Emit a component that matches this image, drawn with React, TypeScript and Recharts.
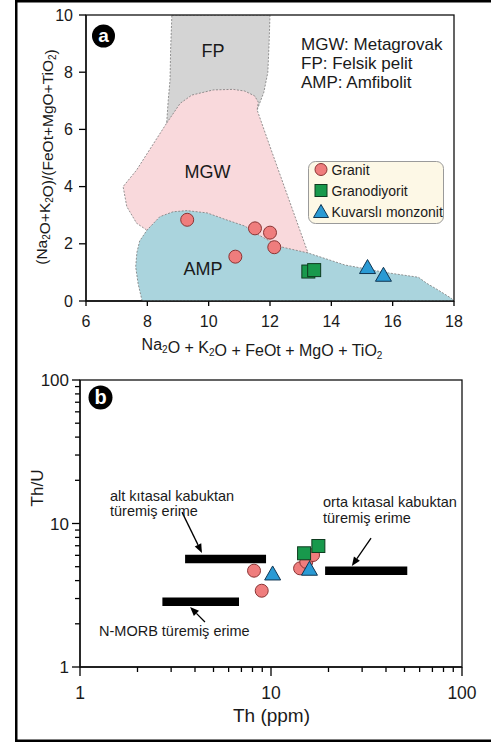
import React from "react";
import {
  ScatterChart,
  Scatter,
  XAxis,
  YAxis,
  ReferenceLine,
} from "recharts";

const FONT = "'Liberation Sans', Arial, Helvetica, sans-serif";
const INK = "#1a1a1a";

// ---- panel a: Na2O+K2O+FeOt+MgO+TiO2 vs (Na2O+K2O)/(FeOt+MgO+TiO2)
const xTicksA = [6, 8, 10, 12, 14, 16, 18];
const yTicksA = [0, 2, 4, 6, 8, 10];

// field boundaries (data coords)
const fpField = [
  [8.8, 10], [12.0, 10], [11.97, 9.0], [11.93, 8.0], [11.8, 7.3],
  [11.58, 6.68], [11.0, 6.0], [9.5, 5.8], [8.63, 6.22], [8.68, 7.0],
  [8.74, 7.73], [8.76, 8.8],
];
const mgwField = [
  [8.63, 6.22], [9.07, 6.91], [9.45, 7.2], [10.15, 7.38], [10.8, 7.4],
  [11.18, 7.34], [11.5, 7.17], [11.62, 6.95], [11.58, 6.68], [12.0, 5.4],
  [12.39, 4.23], [12.8, 3.0], [13.24, 1.68], [13.0, 1.4], [8.2, 2.0],
  [7.98, 2.48], [7.65, 2.72], [7.33, 3.3], [7.21, 4.0], [7.65, 4.58],
  [8.14, 5.4],
];
const ampField = [
  [7.83, 0], [7.7, 0.6], [7.62, 1.19], [7.66, 1.7], [7.75, 2.1],
  [7.99, 2.48], [8.41, 2.95], [8.84, 3.12], [9.29, 3.16], [9.95, 3.08],
  [10.6, 2.83], [11.18, 2.62], [11.51, 2.38], [12.33, 1.9], [13.24, 1.68],
  [14.44, 1.26], [15.75, 1.0], [16.84, 0.83], [17.11, 0.62], [17.49, 0.38],
  [17.92, 0.09], [18, 0],
];

const granitA = [
  { x: 9.3, y: 2.84 }, { x: 10.87, y: 1.55 }, { x: 11.51, y: 2.54 },
  { x: 12.0, y: 2.39 }, { x: 12.14, y: 1.88 },
];
const granodioritA = [{ x: 13.25, y: 1.03 }, { x: 13.44, y: 1.08 }];
const kuvarsliA = [{ x: 15.18, y: 1.17 }, { x: 15.7, y: 0.9 }];

// ---- panel b: Th (ppm) vs Th/U, log-log
const logTicks = [1, 2, 3, 4, 5, 6, 7, 8, 9, 10, 20, 30, 40, 50, 60, 70, 80, 90, 100];
const majorTicks = [1, 10, 100];

const granitB = [
  { th: 8.15, thu: 4.69 }, { th: 8.94, thu: 3.4 }, { th: 14.2, thu: 4.87 },
  { th: 15.3, thu: 5.4 }, { th: 16.6, thu: 6.03 },
];
const granodioritB = [{ th: 14.9, thu: 6.2 }, { th: 17.7, thu: 6.97 }];
const kuvarsliB = [{ th: 10.2, thu: 4.45 }, { th: 15.9, thu: 4.8 }];

// melt fields: [th from, th to, Th/U]
const meltBars = [
  [3.55, 9.42, 5.66],
  [2.7, 6.8, 2.85],
  [19.2, 51.7, 4.68],
];
// arrows: [tail th, tail thu, head th, head thu]
const meltArrows = [
  [3.42, 12.0, 4.35, 6.23],
  [4.51, 2.06, 3.77, 2.62],
  [33.4, 7.92, 26.5, 5.05],
];

const GRANIT = { fill: "#ef7d7d", stroke: "#8a3434" };
const GRANODIORIT = { fill: "#18994c", stroke: "#0e3b1f" };
const KUVARSLI = { fill: "#2a9ad4", stroke: "#103552" };

const toPts = (arr: number[][]) => arr.map(([x, y]) => ({ x, y }));

const fieldLine = (fill: string) => (p: any) => {
  const pts = p.points || [];
  if (!pts.length) return <g />;
  const d =
    pts.map((pt: any, i: number) => `${i ? "L" : "M"}${pt.x},${pt.y}`).join("") + "Z";
  return (
    <path d={d} fill={fill} stroke="#7a7a7a" strokeWidth={0.8} strokeDasharray="2 1.5" />
  );
};

const noDot = () => <g />;

const circleShape = (p: any) => (
  <circle cx={p.cx} cy={p.cy} r={6.5} fill={GRANIT.fill} stroke={GRANIT.stroke} strokeWidth={1} />
);
const squareShape = (p: any) => (
  <rect x={p.cx - 6.5} y={p.cy - 6.5} width={13} height={13} fill={GRANODIORIT.fill} stroke={GRANODIORIT.stroke} strokeWidth={1} />
);
const triangleShape = (p: any) => (
  <polygon
    points={`${p.cx},${p.cy - 8} ${p.cx - 8},${p.cy + 6} ${p.cx + 8},${p.cy + 6}`}
    fill={KUVARSLI.fill}
    stroke={KUVARSLI.stroke}
    strokeWidth={1}
  />
);

const LogTickX = (props: any) => {
  const { x, y, payload } = props;
  const major = majorTicks.includes(payload.value);
  return (
    <g>
      <line x1={x} y1={y} x2={x} y2={y + (major ? 9 : 5)} stroke="#000" strokeWidth={1.3} />
      {major && (
        <text x={x} y={y + 32} textAnchor="middle" fontSize={17.5} fontFamily={FONT} fill={INK}>
          {payload.value}
        </text>
      )}
    </g>
  );
};

const LogTickY = (props: any) => {
  const { x, y, payload } = props;
  const major = majorTicks.includes(payload.value);
  return (
    <g>
      <line x1={x - (major ? 8 : 5)} y1={y} x2={x} y2={y} stroke="#000" strokeWidth={1.3} />
      {major && (
        <text x={x - 11} y={y + 6} textAnchor="end" fontSize={17} fontFamily={FONT} fill={INK}>
          {payload.value}
        </text>
      )}
    </g>
  );
};

const arrowShape = (p: any) => {
  const { x1, y1, x2, y2 } = p;
  const a = Math.atan2(y2 - y1, x2 - x1);
  const L = 9;
  const W = 3.6;
  const bx = x2 - L * Math.cos(a);
  const by = y2 - L * Math.sin(a);
  const nx = -Math.sin(a) * W;
  const ny = Math.cos(a) * W;
  return (
    <g>
      <line x1={x1} y1={y1} x2={bx} y2={by} stroke="#000" strokeWidth={1.3} />
      <polygon points={`${x2},${y2} ${bx + nx},${by + ny} ${bx - nx},${by - ny}`} fill="#000" />
    </g>
  );
};

const Sub = ({ c }: { c: string }) => (
  <>
    <tspan dy={3} fontSize={10}>{c}</tspan>
    <tspan dy={-3}>{""}</tspan>
  </>
);

const legendItems = [
  { label: "Granit", kind: "circle" },
  { label: "Granodiyorit", kind: "square" },
  { label: "Kuvarslı monzonit", kind: "triangle" },
];

function Overlay() {
  const txt = { fontFamily: FONT, fill: INK } as const;
  return (
    <svg
      width={491}
      height={742}
      style={{ position: "absolute", left: 0, top: 0, pointerEvents: "none" }}
    >
      <rect x={16.25} y={1.25} width={490} height={739.5} fill="none" stroke="#000" strokeWidth={2.5} />

      {/* plot frames */}
      <rect x={86} y={15} width={368} height={286} fill="none" stroke="#111" strokeWidth={1.3} />
      <rect x={80} y={380} width={382} height={287} fill="none" stroke="#111" strokeWidth={1.3} />

      {/* panel a badges + labels */}
      <circle cx={103.5} cy={36} r={11.5} fill="#000" />
      <text x={103.5} y={42} textAnchor="middle" fontSize={19} fontWeight="bold" fontFamily={FONT} fill="#fff">a</text>
      <text x={213} y={57} textAnchor="middle" fontSize={18} {...txt}>FP</text>
      <text x={207.5} y={178} textAnchor="middle" fontSize={18} {...txt}>MGW</text>
      <text x={203} y={275} textAnchor="middle" fontSize={18} {...txt}>AMP</text>
      <text x={301} y={50} fontSize={17} {...txt}>MGW: Metagrovak</text>
      <text x={301} y={69} fontSize={17} {...txt}>FP: Felsik pelit</text>
      <text x={301} y={88} fontSize={17} {...txt}>AMP: Amfibolit</text>

      {/* legend */}
      <rect x={308.5} y={161.5} width={135} height={62} rx={7} fill="#fdf8e6" stroke="#9a9a9a" strokeWidth={1} />
      {legendItems.map((it, i) => {
        const cy = 169.5 + i * 21;
        const cx = 321;
        return (
          <g key={it.label}>
            {it.kind === "circle" && (
              <circle cx={cx} cy={cy} r={6} fill={GRANIT.fill} stroke={GRANIT.stroke} strokeWidth={1} />
            )}
            {it.kind === "square" && (
              <rect x={cx - 6} y={cy - 6} width={12} height={12} fill={GRANODIORIT.fill} stroke={GRANODIORIT.stroke} strokeWidth={1} />
            )}
            {it.kind === "triangle" && (
              <polygon
                points={`${cx},${cy - 7} ${cx - 7.5},${cy + 6} ${cx + 7.5},${cy + 6}`}
                fill={KUVARSLI.fill}
                stroke={KUVARSLI.stroke}
                strokeWidth={1}
              />
            )}
            <text x={331.5} y={cy + 5} fontSize={14} {...txt}>{it.label}</text>
          </g>
        );
      })}

      {/* panel a axis titles */}
      <text x={262} y={350} textAnchor="middle" fontSize={16} {...txt}>
        Na<Sub c="2" />O + K<Sub c="2" />O + FeOt + MgO + TiO<Sub c="2" />
      </text>
      <text x={47} y={157} textAnchor="middle" fontSize={15.5} transform="rotate(-90 47 157)" {...txt}>
        (Na<Sub c="2" />O+K<Sub c="2" />O)/(FeOt+MgO+TiO<Sub c="2" />)
      </text>

      {/* panel b */}
      <circle cx={100.5} cy={397.5} r={12} fill="#000" />
      <text x={100.5} y={404} textAnchor="middle" fontSize={20} fontWeight="bold" fontFamily={FONT} fill="#fff">b</text>
      <text x={110} y={500.5} fontSize={14.5} {...txt}>alt kıtasal kabuktan</text>
      <text x={110} y={515.5} fontSize={14.5} {...txt}>türemiş erime</text>
      <text x={323} y={507} fontSize={14.5} {...txt}>orta kıtasal kabuktan</text>
      <text x={323} y={522.5} fontSize={14.5} {...txt}>türemiş erime</text>
      <text x={99} y={636} fontSize={14.5} {...txt}>N-MORB türemiş erime</text>
      <text x={271.5} y={722} textAnchor="middle" fontSize={19} {...txt}>Th (ppm)</text>
      <text x={43} y={488} textAnchor="middle" fontSize={17} transform="rotate(-90 43 488)" {...txt}>Th/U</text>
    </svg>
  );
}

export default function App() {
  const axisLine = { stroke: "#000", strokeWidth: 1.3 };
  return (
    <div style={{ position: "absolute", left: 0, top: 0, width: 491, height: 742, background: "#fff" }}>
      <div style={{ position: "absolute", left: 0, top: 0 }}>
        <ScatterChart width={491} height={340} margin={{ top: 15, right: 37, bottom: 9, left: 26 }}>
          <XAxis
            type="number"
            dataKey="x"
            domain={[6, 18]}
            ticks={xTicksA}
            interval={0}
            allowDataOverflow
            height={30}
            tickSize={5}
            tickMargin={10}
            axisLine={axisLine}
            tickLine={axisLine}
            tick={{ fill: INK, fontSize: 16, fontFamily: FONT }}
          />
          <YAxis
            type="number"
            dataKey="y"
            domain={[0, 10]}
            ticks={yTicksA}
            interval={0}
            allowDataOverflow
            width={60}
            tickSize={7}
            tickMargin={6}
            axisLine={axisLine}
            tickLine={axisLine}
            tick={{ fill: INK, fontSize: 16, fontFamily: FONT }}
          />
          <Scatter data={toPts(fpField)} line={fieldLine("#d4d4d4")} shape={noDot} legendType="none" isAnimationActive={false} />
          <Scatter data={toPts(mgwField)} line={fieldLine("#f9d9dc")} shape={noDot} legendType="none" isAnimationActive={false} />
          <Scatter data={toPts(ampField)} line={fieldLine("#aad4dd")} shape={noDot} legendType="none" isAnimationActive={false} />
          <Scatter name="Granit" data={granitA} shape={circleShape} isAnimationActive={false} />
          <Scatter name="Granodiyorit" data={granodioritA} shape={squareShape} isAnimationActive={false} />
          <Scatter name="Kuvarslı monzonit" data={kuvarsliA} shape={triangleShape} isAnimationActive={false} />
        </ScatterChart>
      </div>

      <div style={{ position: "absolute", left: 0, top: 350 }}>
        <ScatterChart width={491} height={392} margin={{ top: 30, right: 29, bottom: 45, left: 20 }}>
          <XAxis
            type="number"
            dataKey="th"
            scale="log"
            domain={[1, 100]}
            ticks={logTicks}
            interval={0}
            allowDataOverflow
            height={30}
            tickSize={0}
            tickMargin={0}
            tickLine={false}
            axisLine={axisLine}
            tick={<LogTickX />}
          />
          <YAxis
            type="number"
            dataKey="thu"
            scale="log"
            domain={[1, 100]}
            ticks={logTicks}
            interval={0}
            allowDataOverflow
            width={60}
            tickSize={0}
            tickMargin={0}
            tickLine={false}
            axisLine={axisLine}
            tick={<LogTickY />}
          />
          {meltBars.map(([a, b, v], i) => (
            <ReferenceLine key={"bar" + i} segment={[{ x: a, y: v }, { x: b, y: v }]} stroke="#000" strokeWidth={8.5} />
          ))}
          {meltArrows.map(([tx, ty, hx, hy], i) => (
            <ReferenceLine key={"arr" + i} segment={[{ x: tx, y: ty }, { x: hx, y: hy }]} shape={arrowShape} />
          ))}
          <Scatter name="Granit" data={granitB} shape={circleShape} isAnimationActive={false} />
          <Scatter name="Granodiyorit" data={granodioritB} shape={squareShape} isAnimationActive={false} />
          <Scatter name="Kuvarslı monzonit" data={kuvarsliB} shape={triangleShape} isAnimationActive={false} />
        </ScatterChart>
      </div>

      <Overlay />
    </div>
  );
}
